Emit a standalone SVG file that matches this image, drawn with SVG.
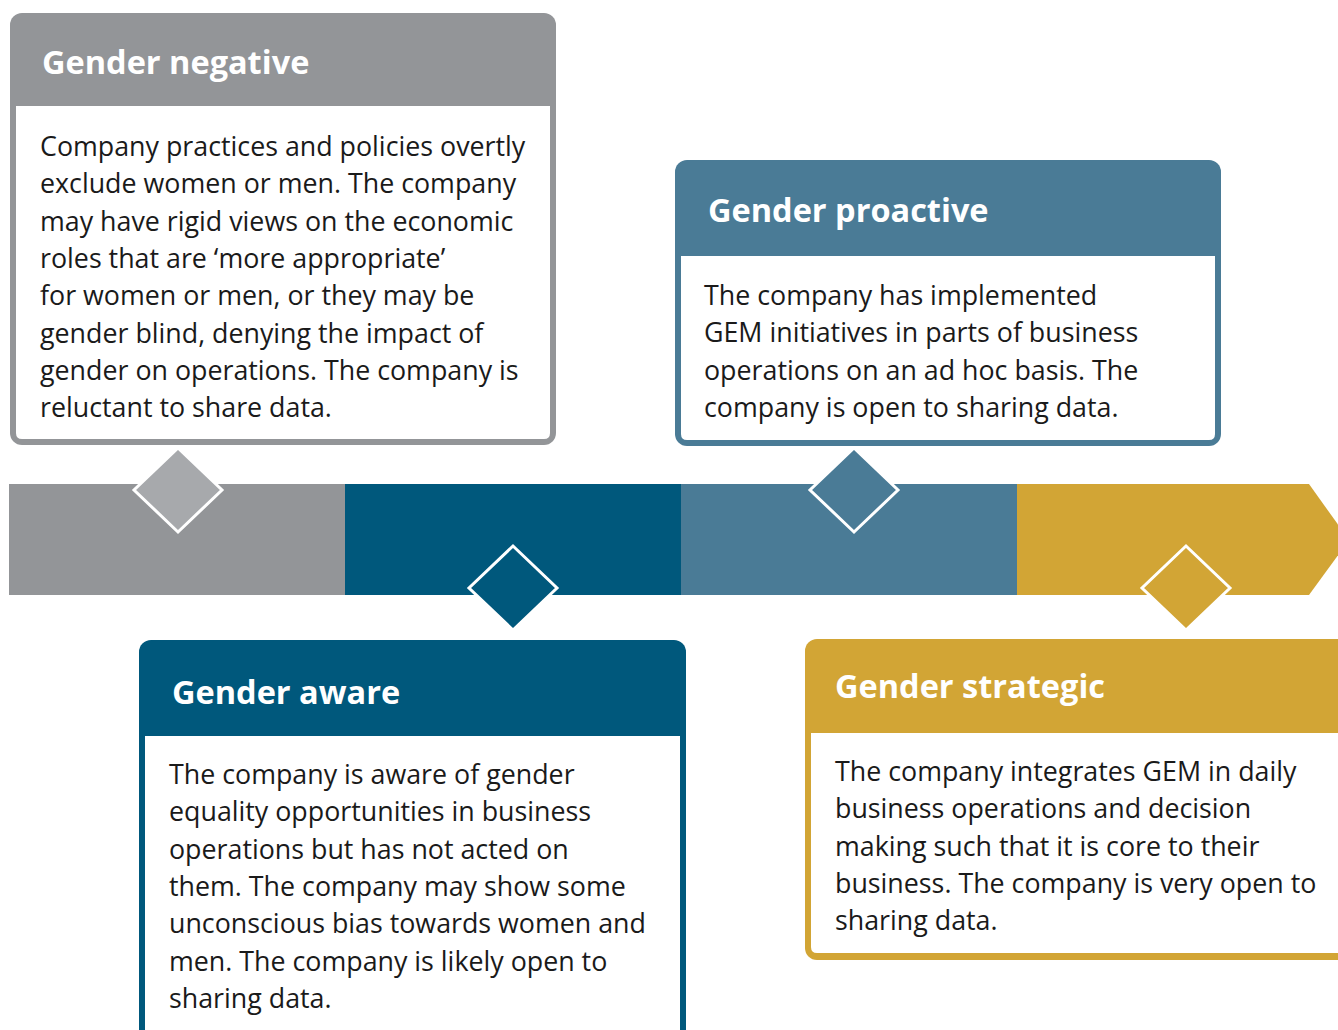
<svg xmlns="http://www.w3.org/2000/svg" width="1338" height="1030" viewBox="0 0 1338 1030">
  <style>
    .title { font-family: "Open Sans", "Noto Sans", sans-serif; font-weight: bold; font-size: 32.5px; fill: #ffffff; }
    .body { font-family: "Open Sans", "Noto Sans", sans-serif; font-size: 26.8px; fill: #1a1a1a; }
    .inner { fill: #ffffff; }
    .dia { stroke: #ffffff; stroke-width: 3; }
  </style>

  <!-- timeline bar -->
  <g id="timeline">
    <rect x="9" y="484" width="337" height="111" fill="#939598"/>
    <rect x="345" y="484" width="337" height="111" fill="#00587c"/>
    <rect x="681" y="484" width="337" height="111" fill="#4a7b96"/>
    <polygon points="1017,484 1309,484 1349,540 1309,595 1017,595" fill="#d2a535"/>
  </g>

  <!-- Gender negative -->
  <g id="gender-negative">
    <rect x="10" y="13" width="546" height="432" rx="12" fill="#939598"/>
    <path class="inner" d="M16,106 H550 V433 Q550,439 544,439 H22 Q16,439 16,433 Z"/>
    <text class="title" x="42" y="74">Gender negative</text>
    <text class="body">
      <tspan x="40" y="156">Company practices and policies overtly</tspan>
      <tspan x="40" y="193">exclude women or men. The company</tspan>
      <tspan x="40" y="231">may have rigid views on the economic</tspan>
      <tspan x="40" y="268">roles that are ‘more appropriate’</tspan>
      <tspan x="40" y="305">for women or men, or they may be</tspan>
      <tspan x="40" y="343">gender blind, denying the impact of</tspan>
      <tspan x="40" y="380">gender on operations. The company is</tspan>
      <tspan x="40" y="417">reluctant to share data.</tspan>
    </text>
    <polygon class="dia" points="178,448 222,490 178,532 134,490" fill="#a7a9ac"/>
  </g>

  <!-- Gender proactive -->
  <g id="gender-proactive">
    <rect x="675" y="160" width="546" height="286" rx="12" fill="#4a7b96"/>
    <path class="inner" d="M681,256 H1215 V434 Q1215,440 1209,440 H687 Q681,440 681,434 Z"/>
    <text class="title" x="708" y="222">Gender proactive</text>
    <text class="body">
      <tspan x="704" y="305">The company has implemented</tspan>
      <tspan x="704" y="342">GEM initiatives in parts of business</tspan>
      <tspan x="704" y="380">operations on an ad hoc basis. The</tspan>
      <tspan x="704" y="417">company is open to sharing data.</tspan>
    </text>
    <polygon class="dia" points="854,448 898,490 854,532 810,490" fill="#4a7b96"/>
  </g>

  <!-- Gender aware -->
  <g id="gender-aware">
    <rect x="139" y="640" width="547" height="410" rx="12" fill="#00587c"/>
    <rect class="inner" x="145" y="736" width="535" height="308"/>
    <text class="title" x="172" y="704">Gender aware</text>
    <text class="body">
      <tspan x="169" y="784">The company is aware of gender</tspan>
      <tspan x="169" y="821">equality opportunities in business</tspan>
      <tspan x="169" y="859">operations but has not acted on</tspan>
      <tspan x="169" y="896">them. The company may show some</tspan>
      <tspan x="169" y="933">unconscious bias towards women and</tspan>
      <tspan x="169" y="971">men. The company is likely open to</tspan>
      <tspan x="169" y="1008">sharing data.</tspan>
    </text>
    <polygon class="dia" points="513,546 557,588 513,630 469,588" fill="#00587c"/>
  </g>

  <!-- Gender strategic -->
  <g id="gender-strategic">
    <rect x="805" y="639" width="560" height="321" rx="12" fill="#d2a535"/>
    <path class="inner" d="M811,733 H1360 V953 H817 Q811,953 811,947 Z"/>
    <text class="title" x="835" y="698">Gender strategic</text>
    <text class="body">
      <tspan x="835" y="781">The company integrates GEM in daily</tspan>
      <tspan x="835" y="818">business operations and decision</tspan>
      <tspan x="835" y="856">making such that it is core to their</tspan>
      <tspan x="835" y="893">business. The company is very open to</tspan>
      <tspan x="835" y="930">sharing data.</tspan>
    </text>
    <polygon class="dia" points="1186,546 1230,588 1186,630 1142,588" fill="#d2a535"/>
  </g>
</svg>
